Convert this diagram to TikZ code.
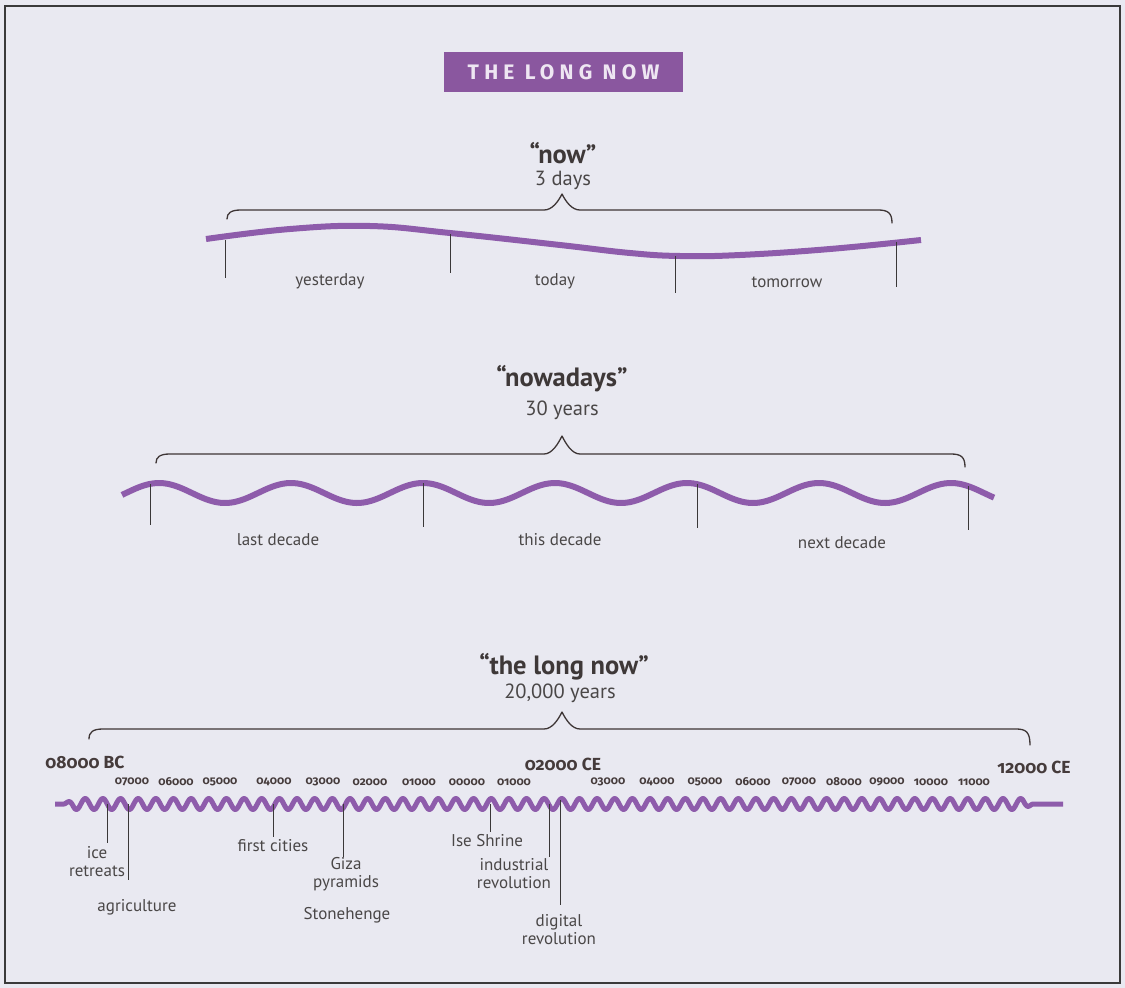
\documentclass[tikz,border=0pt]{standalone}
\usepackage{fontspec}
\setmainfont{PT Sans}
\newfontfamily\datefont[Numbers=OldStyle]{Fira Sans}
\newfontfamily\titlefont{Fira Sans}
\definecolor{bgcol}{HTML}{E9E9F1}
\definecolor{bandpurple}{HTML}{8E5CAB}
\definecolor{titlepurple}{HTML}{8A579F}
\definecolor{titletext}{HTML}{EEE6F2}
\definecolor{labelgray}{HTML}{4A4747}
\definecolor{titlegray}{HTML}{3E3838}
\definecolor{yearcol}{HTML}{453B3B}
\definecolor{tickcol}{HTML}{3A3838}
\definecolor{bracecol}{HTML}{3D3535}
\definecolor{framecol}{HTML}{3A3A3A}
\newcommand\lnbrace[7]{%
  \draw[bracestyle] (#1,#2) .. controls (#1,#3+3) and (#1+4,#3) .. (#1+14,#3)
    -- (#4-18,#3) .. controls (#4-10,#3) and (#4-4,#5+8) .. (#4,#5)
    .. controls (#4+4,#5+8) and (#4+10,#3) .. (#4+18,#3)
    -- (#6-14,#3) .. controls (#6-4,#3) and (#6,#3+3) .. (#6,#7);}
\begin{document}
\begin{tikzpicture}[x=1pt,y=-1pt,
  lbl/.style={text=labelgray, font=\fontsize{17}{18}\selectfont, inner sep=0pt, align=center},
  ttl/.style={text=titlegray, font=\fontsize{26.5}{28}\selectfont\bfseries, inner sep=0pt},
  sub/.style={text=labelgray, font=\fontsize{20.5}{22}\selectfont, inner sep=0pt},
  tickln/.style={draw=tickcol, line width=1pt},
  band/.style={draw=bandpurple, line width=6pt, line cap=butt, line join=round},
  bracestyle/.style={draw=bracecol, line width=1.3pt, line cap=round, line join=round},
  yr/.style={text=yearcol, font=\datefont\bfseries\fontsize{11.5}{12}\selectfont, inner sep=0pt},
  era/.style={text=yearcol, font=\datefont\bfseries\fontsize{17.5}{18}\selectfont, inner sep=0pt}]
\fill[bgcol] (0,0) rectangle (1125,988);
\useasboundingbox (0,0) rectangle (1125,988);
\draw[framecol, line width=1.5pt] (5,6) rectangle (1120,983);

% title
\node[fill=titlepurple, minimum width=239pt, minimum height=40pt, inner sep=0pt,
      text=titletext, font=\titlefont\bfseries\fontsize{21}{21}\selectfont] (title) at (563.5,72)
  {\addfontfeature{LetterSpace=25}THE LONG NOW\hspace{-5pt}};

% ---- band 1: now
\node[ttl] (now) at (563,153) {“now”};
\node[sub] (days) at (563,180) {3 days};
\lnbrace{227}{219}{210}{562}{194}{892}{223}
\draw[band] plot[smooth, tension=0.7] coordinates {(206,239) (290,229) (370,226) (450,233) (560,245) (630,253) (680,256) (740,255) (830,249) (921,240)};
\draw[tickln] (225,240) -- (225,278);
\draw[tickln] (450,234) -- (450,273);
\draw[tickln] (675,256) -- (675,293);
\draw[tickln] (896,242) -- (896,287);
\node[lbl] (yesterday) at (330,281) {yesterday};
\node[lbl] (today) at (555,281) {today};
\node[lbl] (tomorrow) at (787,282) {tomorrow};

% ---- band 2: nowadays
\node[ttl] (nowadays) at (562,379) {“nowadays”};
\node[sub] (thirty) at (562,410) {30 years};
\lnbrace{156}{463}{454}{562}{436}{965}{467}
\draw[band] plot[domain=122:994, samples=250, smooth] (\x, {493-10*cos(2.72727*(\x-159))});
\draw[tickln] (150,484) -- (150,525);
\draw[tickln] (423,483) -- (423,527);
\draw[tickln] (697,484) -- (697,528);
\draw[tickln] (968,486) -- (968,530);
\node[lbl] (last) at (278,540) {last decade};
\node[lbl] (this) at (560,540) {this decade};
\node[lbl] (next) at (842,543) {next decade};

% ---- band 3: the long now
\node[ttl] (longnow) at (564,667) {“the long now”};
\node[sub] (twenty) at (560,693) {20,000 years};
\lnbrace{89}{739}{729}{562}{712}{1030}{745}
\draw[band, line width=5pt] plot[domain=55:1063, samples=1009]
  (\x, {804 + 5.5*min(1,max(0,(\x-64)/10))*min(1,max(0,(1033-\x)/10))*sin(360*mod((\x-72)/17.65,1))});
\node[era] (bc) at (85,762) {08000 BC};
\node[era] (ce) at (563,764) {02000 CE};
\node[era] (ce12) at (1034,767) {12000 CE};
\foreach \px/\t in {132/07000,176/06000,220/05000,274/04000,323/03000,370/02000,419/01000,467/00000,514/01000,
                    608/03000,657/04000,705/05000,753/06000,799/07000,844/08000,887/09000,931/10000,974/11000}
  \node[yr] (y\px) at (\px,782) {\t};
\draw[tickln] (107,804) -- (107,843);
\draw[tickln] (128,804) -- (128,880);
\draw[tickln] (273,804) -- (273,837);
\draw[tickln] (343,804) -- (343,857);
\draw[tickln] (490,804) -- (490,832);
\draw[tickln] (549,804) -- (549,857);
\draw[tickln] (560,800) -- (560,905);
\node[lbl] (ice) at (97,862) {ice\\retreats};
\node[lbl] (agri) at (137,907) {agriculture};
\node[lbl] (cities) at (273,846) {first cities};
\node[lbl] (giza) at (346,874) {Giza\\pyramids};
\node[lbl] (stone) at (347,915) {Stonehenge};
\node[lbl] (ise) at (487,841) {Ise Shrine};
\node[lbl] (indus) at (514,874) {industrial\\revolution};
\node[lbl] (digital) at (559,930) {digital\\revolution};
\end{tikzpicture}
\end{document}
